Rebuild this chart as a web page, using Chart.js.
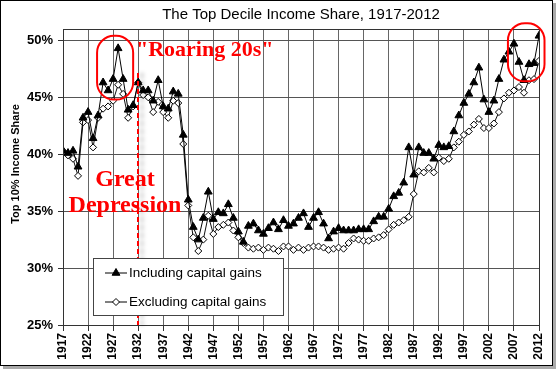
<!DOCTYPE html>
<html>
<head>
<meta charset="utf-8">
<script src="https://cdn.jsdelivr.net/npm/chart.js@4.4.0/dist/chart.umd.min.js"></script>
<style>
html, body { margin: 0; padding: 0; background: #fff; }
</style>
</head>
<body>
<canvas id="myChart" width="556" height="369"></canvas>
<script>
const years = [
    1917, 1918, 1919, 1920, 1921, 1922, 1923, 1924, 1925, 1926,
    1927, 1928, 1929, 1930, 1931, 1932, 1933, 1934, 1935, 1936,
    1937, 1938, 1939, 1940, 1941, 1942, 1943, 1944, 1945, 1946,
    1947, 1948, 1949, 1950, 1951, 1952, 1953, 1954, 1955, 1956,
    1957, 1958, 1959, 1960, 1961, 1962, 1963, 1964, 1965, 1966,
    1967, 1968, 1969, 1970, 1971, 1972, 1973, 1974, 1975, 1976,
    1977, 1978, 1979, 1980, 1981, 1982, 1983, 1984, 1985, 1986,
    1987, 1988, 1989, 1990, 1991, 1992, 1993, 1994, 1995, 1996,
    1997, 1998, 1999, 2000, 2001, 2002, 2003, 2004, 2005, 2006,
    2007, 2008, 2009, 2010, 2011, 2012
];

const includingGains = [
    40.3, 40.1, 40.3, 38.9, 43.2, 43.7, 41.4, 43.4, 46.3, 45.6,
    46.6, 49.3, 46.6, 43.9, 44.3, 46.3, 45.6, 45.6, 44.7, 46.5,
    44.2, 44.0, 45.5, 45.3, 41.7, 36.0, 33.6, 32.5, 34.4, 36.7,
    34.3, 34.9, 34.8, 35.6, 34.4, 33.2, 32.3, 33.7, 33.9, 33.3,
    33.0, 33.5, 34.0, 33.4, 34.2, 33.7, 33.9, 34.4, 34.8, 33.6,
    34.4, 34.9, 33.9, 32.6, 33.2, 33.5, 33.3, 33.3, 33.3, 33.4,
    33.4, 33.4, 34.1, 34.5, 34.5, 35.2, 36.3, 36.6, 37.5, 40.6,
    38.2, 40.6, 40.1, 40.1, 39.6, 40.8, 40.6, 40.7, 42.0, 43.4,
    44.5, 45.3, 46.3, 47.6, 44.8, 43.7, 44.7, 46.6, 48.3, 49.0,
    49.7, 48.1, 46.5, 47.9, 48.0, 50.4
];

const excludingGains = [
    40.3, 39.9, 39.6, 38.1, 42.8, 43.0, 40.6, 43.2, 44.0, 44.2,
    44.7, 46.1, 45.3, 43.2, 44.2, 46.3, 45.2, 45.0, 43.7, 44.6,
    43.7, 43.2, 44.7, 44.5, 40.9, 35.5, 32.7, 31.5, 32.5, 34.6,
    33.0, 33.6, 33.8, 34.0, 33.3, 32.7, 32.2, 31.8, 31.7, 31.8,
    31.6, 31.8, 31.7, 31.5, 31.9, 31.9, 31.6, 31.8, 31.6, 31.8,
    31.9, 31.9, 31.8, 31.6, 31.7, 31.8, 31.7, 32.2, 32.6, 32.5,
    32.4, 32.4, 32.6, 32.7, 32.9, 33.4, 33.8, 34.0, 34.2, 34.5,
    36.5, 38.5, 38.4, 38.8, 38.4, 39.7, 39.4, 39.6, 40.6, 41.1,
    41.7, 42.0, 42.6, 43.1, 42.3, 42.3, 42.7, 43.7, 44.9, 45.4,
    45.6, 45.9, 45.4, 46.5, 46.6, 48.2
];

const xTicks = [1917, 1922, 1927, 1932, 1937, 1942, 1947, 1952, 1957, 1962,
                1967, 1972, 1977, 1982, 1987, 1992, 1997, 2002, 2007, 2012];
const yTicks = [25, 30, 35, 40, 45, 50];

const seriesNames = ["Including capital gains", "Excluding capital gains"];

const SANS = "'Liberation Sans', Arial, sans-serif";
const SERIF = "'Liberation Serif', 'Times New Roman', serif";

// titles, notes, legend and frame drawn on top of the chart
const extras = {
    id: "extras",
    beforeDraw(chart) {
        const ctx = chart.ctx;
        ctx.save();
        ctx.fillStyle = "#fff";
        ctx.fillRect(0, 0, chart.width, chart.height);
        ctx.restore();
    },
    afterDatasetsDraw(chart) {
        const { ctx, chartArea: a, scales: { x, y } } = chart;
        ctx.save();

        // plot box
        ctx.strokeStyle = "#333";
        ctx.lineWidth = 1;
        ctx.strokeRect(Math.round(a.left) + 0.5, Math.round(a.top) + 0.5,
                       Math.round(a.right - a.left), Math.round(a.bottom - a.top));

        // title
        ctx.fillStyle = "#000";
        ctx.font = "15px " + SANS;
        ctx.textAlign = "center";
        ctx.textBaseline = "alphabetic";
        ctx.fillText("The Top Decile Income Share, 1917-2012", (a.left + a.right) / 2, 19);

        // y axis title
        ctx.save();
        ctx.translate(16, 164);
        ctx.rotate(-Math.PI / 2);
        ctx.font = "bold 11px " + SANS;
        ctx.textBaseline = "middle";
        ctx.fillText("Top 10% Income Share", 0, 0);
        ctx.restore();

        // depression marker
        const xd = Math.round(x.getPixelForValue(1932));
        ctx.save();
        ctx.shadowColor = "rgba(0,0,0,0.35)";
        ctx.shadowBlur = 4;
        ctx.shadowOffsetX = 4;
        ctx.strokeStyle = "#f00";
        ctx.lineWidth = 2;
        ctx.setLineDash([5, 3]);
        ctx.beginPath();
        ctx.moveTo(xd, 73);
        ctx.lineTo(xd, a.bottom);
        ctx.stroke();
        ctx.restore();

        // red rings
        ctx.strokeStyle = "#f00";
        ctx.lineWidth = 2;
        const ring = (x0, x1, y0, y1, r) => {
            const px0 = x.getPixelForValue(x0), px1 = x.getPixelForValue(x1);
            const py0 = y.getPixelForValue(y0), py1 = y.getPixelForValue(y1);
            ctx.beginPath();
            ctx.roundRect(px0, py0, px1 - px0, py1 - py0, r);
            ctx.stroke();
        };
        ring(1923.8, 1931.0, 50.4, 44.8, 17);
        ring(2005.8, 2013.1, 51.5, 46.4, 17);

        // notes
        ctx.fillStyle = "#f00";
        ctx.font = "bold 22px " + SERIF;
        ctx.textAlign = "left";
        ctx.fillText("\"Roaring 20s\"", 136, 56);
        ctx.font = "bold 24px " + SERIF;
        ctx.textAlign = "center";
        ctx.fillText("Great", 125, 186);
        ctx.fillText("Depression", 125, 212);

        // legend
        const lx = 93.5, ly = 258.5, lw = 190, lh = 57;
        ctx.fillStyle = "#fff";
        ctx.fillRect(lx, ly, lw, lh);
        ctx.strokeStyle = "#444";
        ctx.lineWidth = 1;
        ctx.strokeRect(lx, ly, lw, lh);
        const rows = [273, 302];
        chart.data.datasets.forEach((ds, i) => {
            const ry = rows[i];
            ctx.strokeStyle = "#000";
            ctx.lineWidth = 1;
            ctx.beginPath();
            ctx.moveTo(105, ry);
            ctx.lineTo(127, ry);
            ctx.stroke();
            ctx.fillStyle = ds.pointBackgroundColor;
            ctx.strokeStyle = ds.pointBorderColor;
            Chart.helpers.drawPoint(ctx, {
                pointStyle: ds.pointStyle, radius: ds.pointRadius,
                rotation: 0, borderWidth: 1
            }, 116, ry);
            ctx.fillStyle = "#000";
            ctx.font = "13.5px " + SANS;
            ctx.textAlign = "left";
            ctx.textBaseline = "middle";
            ctx.fillText(ds.label, 129, ry);
        });

        ctx.restore();
    },
    afterDraw(chart) {
        const ctx = chart.ctx;
        ctx.save();
        ctx.fillStyle = "#aaa";
        ctx.fillRect(553, 3, 3, 366);
        ctx.fillRect(3, 366, 553, 3);
        ctx.strokeStyle = "#000";
        ctx.lineWidth = 1;
        ctx.strokeRect(0.5, 0.5, 552, 365);
        ctx.restore();
    }
};

const ctx = document.getElementById("myChart").getContext("2d");

const myChart = new Chart(ctx, {
    type: "line",
    data: {
        datasets: [
            {
                label: seriesNames[0],
                data: years.map((yr, i) => ({ x: yr, y: includingGains[i] })),
                borderColor: "#000",
                borderWidth: 1,
                pointStyle: "triangle",
                pointRadius: 4.5,
                pointBackgroundColor: "#000",
                pointBorderColor: "#000",
                pointBorderWidth: 1,
                tension: 0
            },
            {
                label: seriesNames[1],
                data: years.map((yr, i) => ({ x: yr, y: excludingGains[i] })),
                borderColor: "#111",
                borderWidth: 1,
                pointStyle: "rectRot",
                pointRadius: 3.5,
                pointBackgroundColor: "#fff",
                pointBorderColor: "#000",
                pointBorderWidth: 1,
                tension: 0
            }
        ]
    },
    options: {
        responsive: false,
        animation: false,
        devicePixelRatio: 1,
        layout: { padding: { left: 0, top: 29, right: 17, bottom: 0 } },
        plugins: {
            legend: { display: false },
            title: { display: false },
            tooltip: { enabled: false }
        },
        scales: {
            x: {
                type: "linear",
                min: 1917,
                max: 2012,
                afterBuildTicks: (scale) => { scale.ticks = xTicks.map(v => ({ value: v })); },
                afterFit: (scale) => { scale.height = 44; },
                grid: { color: "#666", lineWidth: 1, tickLength: 6, tickColor: "#333" },
                border: { color: "#333", width: 1 },
                ticks: {
                    autoSkip: false,
                    maxRotation: 90,
                    minRotation: 90,
                    padding: 2,
                    color: "#000",
                    font: { family: SANS, size: 12, weight: "bold" },
                    callback: (v) => String(v)
                }
            },
            y: {
                min: 25,
                max: 51,
                afterBuildTicks: (scale) => { scale.ticks = yTicks.map(v => ({ value: v })); },
                afterFit: (scale) => { scale.width = 63; },
                grid: { color: "#555", lineWidth: 1, tickLength: 5, tickColor: "#333" },
                border: { color: "#333", width: 1 },
                ticks: {
                    padding: 5,
                    color: "#000",
                    font: { family: SANS, size: 13, weight: "bold" },
                    callback: (v) => v + "%"
                }
            }
        }
    },
    plugins: [extras]
});
</script>
</body>
</html>
